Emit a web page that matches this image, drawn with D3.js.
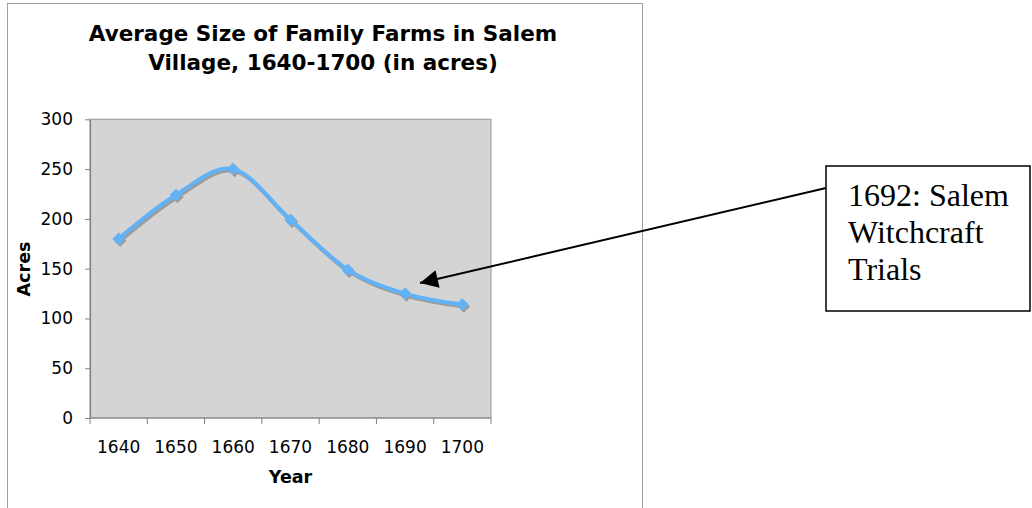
<!DOCTYPE html>
<html><head><meta charset="utf-8">
<script src="https://cdn.jsdelivr.net/npm/d3@7/dist/d3.min.js"></script>
<style>body{margin:0;background:#fff}svg{display:block}</style>
</head><body>
<svg id="c" width="1032" height="508"></svg>
<script>
const years = ["1640","1650","1660","1670","1680","1690","1700"];
const acres = [180, 224, 250, 199, 149, 125, 114];
const yTicks = [0, 50, 100, 150, 200, 250, 300];
const titleLines = ["Average Size of Family Farms in Salem", "Village, 1640-1700 (in acres)"];
const noteLines = ["1692: Salem", "Witchcraft", "Trials"];

const svg = d3.select("#c");
const pL = 90, pR = 491, pT = 119.3, pB = 418;
const x = d3.scaleBand().domain(years).range([pL, pR]);
const y = d3.scaleLinear().domain([0, 300]).range([pB, pT]);

// outer chart frame
svg.append("rect").attr("x", 7.5).attr("y", 3.5).attr("width", 635).attr("height", 520)
  .attr("fill", "#fff").attr("stroke", "#a0a0a0").attr("stroke-width", 1);

// plot area
svg.append("rect").attr("x", pL).attr("y", pT).attr("width", pR - pL).attr("height", pB - pT)
  .attr("fill", "#d4d4d4").attr("stroke", "#a3a3a3").attr("stroke-width", 1.2);

// title
svg.append("text").attr("x", 323).attr("y", 41)
  .attr("text-anchor", "middle").attr("font-family", "DejaVu Sans").attr("font-weight", "bold")
  .attr("font-size", 21.5).attr("fill", "#000")
  .selectAll("tspan").data(titleLines).join("tspan")
  .attr("x", 323).attr("dy", (d, i) => i ? 28.5 : 0).text(d => d);

// y axis
const ya = svg.append("g").attr("transform", `translate(${pL},0)`)
  .call(d3.axisLeft(y).tickValues(yTicks).tickSize(5).tickSizeOuter(0).tickPadding(12));
ya.select(".domain").attr("stroke", "#808080").attr("stroke-width", 1.2);
ya.selectAll(".tick line").attr("stroke", "#808080");
ya.selectAll(".tick text").attr("font-family", "DejaVu Sans").attr("font-size", 17).attr("fill", "#000");

// x axis
const xa = svg.append("g").attr("transform", `translate(0,${pB})`);
xa.append("line").attr("x1", pL).attr("x2", pR).attr("stroke", "#808080").attr("stroke-width", 1.2);
const bounds = years.map(d => x(d)).concat([x.range()[1]]);
xa.selectAll("line.tk").data(bounds).join("line").attr("class", "tk")
  .attr("x1", d => d).attr("x2", d => d).attr("y1", 0).attr("y2", 6).attr("stroke", "#808080");
xa.selectAll("text").data(years).join("text")
  .attr("x", d => x(d) + x.bandwidth() / 2).attr("y", 35)
  .attr("text-anchor", "middle").attr("font-family", "DejaVu Sans").attr("font-size", 17).attr("fill", "#000")
  .text(d => d);

// axis titles
svg.append("text").attr("x", 290.5).attr("y", 483).attr("text-anchor", "middle")
  .attr("font-family", "DejaVu Sans").attr("font-weight", "bold").attr("font-size", 17.5).text("Year");
svg.append("text").attr("transform", "translate(29.5,269) rotate(-90)").attr("text-anchor", "middle")
  .attr("font-family", "DejaVu Sans").attr("font-weight", "bold").attr("font-size", 17.5).text("Acres");

// series
const pts = years.map((d, i) => ({ yr: d, v: acres[i] }));
const line = d3.line().x(d => x(d.yr) + x.bandwidth() / 2).y(d => y(d.v)).curve(d3.curveCardinal.tension(0));
const diamond = d3.symbol().type(d3.symbolDiamond2).size(100);
const shadow = svg.append("g").attr("transform", "translate(1.5,2)").attr("opacity", 0.75);
shadow.append("path").datum(pts).attr("d", line).attr("fill", "none").attr("stroke", "#8a8a8a").attr("stroke-width", 4);
shadow.selectAll("path.m").data(pts).join("path").attr("class", "m")
  .attr("transform", d => `translate(${x(d.yr) + x.bandwidth() / 2},${y(d.v)})`).attr("d", diamond).attr("fill", "#8a8a8a");
const ser = svg.append("g");
ser.append("path").datum(pts).attr("d", line).attr("fill", "none").attr("stroke", "#62b2f7").attr("stroke-width", 4);
ser.selectAll("path.m").data(pts).join("path").attr("class", "m")
  .attr("transform", d => `translate(${x(d.yr) + x.bandwidth() / 2},${y(d.v)})`).attr("d", diamond).attr("fill", "#62b2f7");

// annotation
const defs = svg.append("defs");
defs.append("marker").attr("id", "ah").attr("viewBox", "0 0 10 10").attr("refX", 10).attr("refY", 5)
  .attr("markerWidth", 11).attr("markerHeight", 9).attr("markerUnits", "strokeWidth").attr("orient", "auto")
  .append("path").attr("d", "M0,0 L10,5 L0,10 Z").attr("fill", "#000");
svg.append("line").attr("x1", 826).attr("y1", 188).attr("x2", 420).attr("y2", 283)
  .attr("stroke", "#000").attr("stroke-width", 2).attr("marker-end", "url(#ah)");
svg.append("rect").attr("x", 826).attr("y", 166).attr("width", 204).attr("height", 145)
  .attr("fill", "#fff").attr("stroke", "#000").attr("stroke-width", 1.5);
svg.append("text").attr("font-family", "Liberation Serif").attr("font-size", 32).attr("fill", "#000")
  .selectAll("tspan").data(noteLines).join("tspan")
  .attr("x", 848).attr("y", (d, i) => 206 + i * 37).text(d => d);
</script>
</body></html>
